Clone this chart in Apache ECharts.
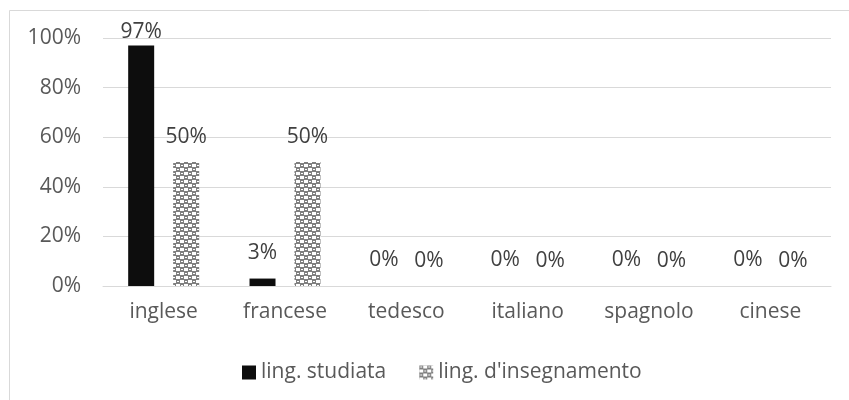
<!DOCTYPE html>
<html><head><meta charset="utf-8">
<script src="https://cdn.jsdelivr.net/npm/echarts@6/dist/echarts.min.js"></script>
<style>html,body{margin:0;padding:0;background:#fff}#c{width:849px;height:400px}</style>
</head><body><div id="c"></div>
<script>
const categories = ['inglese','francese','tedesco','italiano','spagnolo','cinese'];
const studiata = [97, 3, 0, 0, 0, 0];
const insegnamento = [50, 50, 0, 0, 0, 0];
const yTicks = [0, 20, 40, 60, 80, 100];

function makePattern(){
  const c = document.createElement('canvas');
  c.width = 8; c.height = 8;
  const g = c.getContext('2d');
  g.fillStyle = '#808080'; g.fillRect(0,0,8,8);
  g.fillStyle = '#ffffff';
  g.fillRect(4,0,4,3); g.fillRect(0,4,4,3);
  g.fillRect(1,1,2,1); g.fillRect(5,5,2,1);
  return c;
}
const pat = {image: makePattern(), repeat: 'repeat'};
const font = '"Open Sans", sans-serif';
const labelBase = {show:true, position:'top', formatter:'{c}%', color:'#404040', fontSize:21, fontFamily:font};
const chart = echarts.init(document.getElementById('c'), null, {renderer:'canvas'});
chart.setOption({
  animation: false,
  backgroundColor: '#fff',
  graphic: [{type:'rect', shape:{x:9.5,y:10.5,width:860,height:420}, style:{fill:'none', stroke:'#d9d9d9', lineWidth:1}, silent:true}],
  grid: {left:103, right:18, top:38, bottom:114, containLabel:false},
  xAxis: {type:'category', data: categories,
    axisLine:{lineStyle:{color:'#d9d9d9', width:1}}, axisTick:{show:false},
    axisLabel:{color:'#595959', fontSize:21, fontFamily:font, margin:16}},
  yAxis: {type:'value', min:0, max:100, interval:20,
    axisLabel:{color:'#595959', fontSize:21, fontFamily:font, margin:22,
      formatter: v => yTicks.includes(v) ? v + '%' : ''},
    splitLine:{lineStyle:{color:'#d9d9d9', width:1}},
    axisLine:{show:false}, axisTick:{show:false}},
  legend: {top:357, left:237, itemWidth:14, itemHeight:14, itemGap:33,
    textStyle:{color:'#595959', fontSize:21, fontFamily:font},
    data:[{name:'ling. studiata', icon:'rect'},{name:"ling. d'insegnamento", icon:'rect'}]},
  series: [
    {name:'ling. studiata', type:'bar', barWidth:26, barGap:'73%',
      data: studiata.map(v => ({value:v, label:{distance: v > 90 ? 3 : 15}})),
      itemStyle:{color:'#0d0d0d'},
      label: labelBase},
    {name:"ling. d'insegnamento", type:'bar', barWidth:26,
      data: insegnamento.map(v => ({value:v, label:{distance: v > 90 ? 3 : 14}})),
      itemStyle:{color: pat},
      label: labelBase}
  ]
});
</script></body></html>
